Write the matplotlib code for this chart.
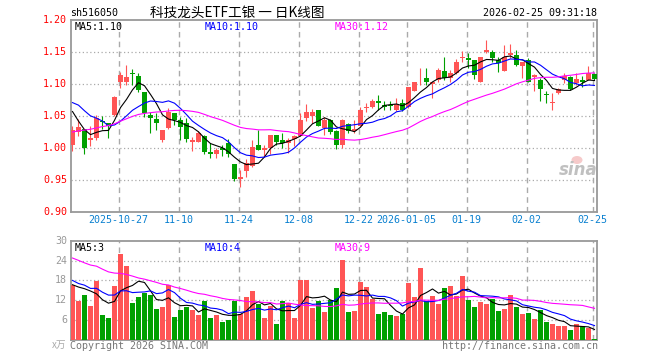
import numpy as np
import pandas as pd
import matplotlib
matplotlib.use('Agg')
import matplotlib.pyplot as plt
from matplotlib.patches import Ellipse

# daily bars, 2025-10-15 .. 2026-02-25 (88 sessions)
opens = [1.005, 1.025, 1.030, 1.013, 1.015, 1.042, 1.039, 1.051, 1.103, 1.104,
         1.117, 1.113, 1.088, 1.051, 1.046, 1.012, 1.031, 1.054, 1.044, 1.039,
         1.009, 1.010, 1.018, 0.993, 0.991, 1.000, 1.008, 0.974, 0.952, 0.964,
         0.972, 1.005, 0.997, 1.000, 1.021, 1.012, 1.008, 1.014, 1.019, 1.047,
         1.050, 1.060, 1.031, 1.043, 1.026, 1.004, 1.037, 1.026, 1.035, 1.062,
         1.064, 1.074, 1.068, 1.067, 1.060, 1.070, 1.064, 1.089, 1.109, 1.110,
         1.100, 1.107, 1.121, 1.109, 1.117, 1.141, 1.141, 1.138, 1.104, 1.150,
         1.151, 1.137, 1.121, 1.146, 1.146, 1.128, 1.138, 1.111, 1.107, 1.084,
         1.071, 1.086, 1.107, 1.111, 1.102, 1.107, 1.107, 1.116]
highs = [1.035, 1.045, 1.030, 1.034, 1.052, 1.050, 1.039, 1.081, 1.119, 1.130,
         1.124, 1.117, 1.088, 1.057, 1.055, 1.028, 1.063, 1.054, 1.048, 1.047,
         1.017, 1.026, 1.021, 1.008, 1.000, 1.005, 1.014, 0.974, 0.966, 0.982,
         1.012, 1.028, 1.005, 1.021, 1.021, 1.023, 1.016, 1.021, 1.055, 1.069,
         1.061, 1.060, 1.048, 1.045, 1.028, 1.045, 1.039, 1.043, 1.064, 1.070,
         1.076, 1.083, 1.074, 1.074, 1.078, 1.076, 1.095, 1.104, 1.125, 1.125,
         1.104, 1.125, 1.143, 1.122, 1.140, 1.152, 1.148, 1.138, 1.143, 1.169,
         1.154, 1.143, 1.161, 1.163, 1.154, 1.135, 1.141, 1.116, 1.109, 1.089,
         1.086, 1.094, 1.118, 1.112, 1.117, 1.112, 1.129, 1.117]
lows = [0.995, 1.019, 0.991, 1.003, 1.013, 1.029, 1.016, 1.050, 1.094, 1.099,
        1.099, 1.087, 1.048, 1.023, 1.028, 1.009, 1.030, 1.036, 1.013, 1.010,
        0.995, 1.009, 0.991, 0.984, 0.984, 0.987, 0.986, 0.948, 0.938, 0.955,
        0.970, 0.996, 0.986, 0.991, 1.005, 1.000, 0.992, 1.003, 1.018, 1.042,
        1.039, 1.034, 1.021, 1.022, 0.998, 1.000, 1.023, 1.023, 1.034, 1.057,
        1.062, 1.060, 1.060, 1.060, 1.058, 1.058, 1.062, 1.089, 1.099, 1.098,
        1.078, 1.104, 1.107, 1.104, 1.116, 1.134, 1.125, 1.108, 1.103, 1.148,
        1.135, 1.119, 1.120, 1.141, 1.129, 1.110, 1.103, 1.089, 1.073, 1.070,
        1.059, 1.085, 1.102, 1.091, 1.099, 1.096, 1.106, 1.107]
closes = [1.028, 1.032, 1.000, 1.015, 1.047, 1.041, 1.034, 1.079, 1.115, 1.111,
          1.116, 1.090, 1.055, 1.047, 1.039, 1.028, 1.057, 1.043, 1.033, 1.014,
          1.013, 1.023, 0.993, 0.991, 0.997, 0.997, 0.991, 0.951, 0.954, 0.976,
          1.002, 0.997, 1.000, 1.021, 1.010, 1.008, 1.013, 1.018, 1.044, 1.057,
          1.057, 1.035, 1.043, 1.025, 1.004, 1.043, 1.026, 1.029, 1.060, 1.064,
          1.074, 1.071, 1.064, 1.066, 1.069, 1.060, 1.095, 1.104, 1.110, 1.104,
          1.104, 1.122, 1.109, 1.117, 1.135, 1.143, 1.138, 1.115, 1.143, 1.154,
          1.141, 1.133, 1.143, 1.149, 1.130, 1.135, 1.104, 1.115, 1.092, 1.083,
          1.072, 1.092, 1.112, 1.092, 1.108, 1.103, 1.117, 1.108]
# volume in 万
volumes = [16.7, 11.7, 13.5, 10.2, 17.7, 7.7, 6.5, 16.2, 26.1, 22.5,
           11.1, 12.9, 14.3, 13.5, 9.3, 9.9, 16.7, 6.9, 9.0, 9.9,
           9.0, 7.5, 11.7, 6.6, 7.5, 5.5, 6.0, 11.7, 8.0, 12.9,
           14.7, 10.8, 6.6, 10.2, 4.8, 11.7, 11.2, 6.6, 18.0, 18.1,
           9.7, 11.9, 8.5, 12.1, 15.7, 24.2, 8.5, 8.9, 17.5, 16.0,
           12.4, 7.9, 8.5, 7.6, 7.3, 7.9, 17.2, 13.0, 21.8, 11.8,
           13.3, 10.9, 15.7, 16.3, 13.3, 19.3, 12.1, 10.0, 11.5, 10.9,
           12.4, 8.8, 9.4, 13.6, 10.0, 7.9, 8.2, 6.3, 9.1, 5.4,
           4.8, 4.2, 4.2, 3.0, 4.8, 4.2, 3.6, 0.3]

# sessions before the window (only feed the moving averages)
prev_close = [0.972, 0.968, 0.975, 0.983, 0.979, 0.988, 0.995, 0.991, 0.998, 1.004,
              0.999, 1.006, 1.012, 1.008, 1.015, 1.021, 1.018, 1.026, 1.032, 1.045,
              1.072, 1.088, 1.095, 1.083, 1.087, 1.107, 1.067, 1.054, 1.029]
prev_vol = [33, 36, 30, 28, 35, 31, 27, 29, 32, 26,
            30, 25, 28, 24, 27, 23, 26, 22, 25, 26,
            21, 18.5, 20, 17.5, 19.5, 15.2, 16.0, 13.7, 21.9]

tick_idx = [8, 18, 28, 38, 48, 56, 66, 76, 87]
tick_labels = ['2025-10-27', '11-10', '11-24', '12-08', '12-22',
               '2026-01-05', '01-19', '02-02', '02-25']
price_ticks = [0.90, 0.95, 1.00, 1.05, 1.10, 1.15, 1.20]
vol_ticks = [6, 12, 18, 24, 30]

ma_price_text = ['MA5:1.10', 'MA10:1.10', 'MA30:1.12']
ma_vol_text = ['MA5:3', 'MA10:4', 'MA30:9']

UP = '#ff5555'
DOWN = '#00a000'
MA_COLORS = ['black', '#0000ff', '#ff00ff']
GRID = '#aaaaaa'
MONO = 'DejaVu Sans Mono'
CJK = ['Noto Sans CJK SC', 'DejaVu Sans']


def moving_avg(vals, prev, n):
    s = pd.Series(list(prev) + list(vals), dtype=float)
    return s.rolling(n).mean().values[len(prev):]


W, H = 660, 360
fig = plt.figure(figsize=(W / 100, H / 100), dpi=100)


def px_axes(x0, y0, x1, y1):
    return fig.add_axes([x0 / W, 1 - y1 / H, (x1 - x0) / W, (y1 - y0) / H])


def ftext(x, y, s, **kw):
    fig.text(x / W, 1 - y / H, s, **kw)


ax = px_axes(71, 20.3, 597, 211.7)
axv = px_axes(71, 240.7, 597, 340)

o = np.array(opens)
h = np.array(highs)
l = np.array(lows)
c = np.array(closes)
v = np.array(volumes)
x = np.arange(len(c))
cols = np.where(c >= o, UP, DOWN)

# candles
ax.vlines(x, l, h, colors=cols, linewidth=0.8, zorder=3)
body = np.maximum(np.abs(c - o), 0.0012)
ax.bar(x, body, bottom=np.minimum(o, c), width=0.8, color=cols,
       linewidth=0, zorder=4)

axv.bar(x, v, width=0.82, color=cols, linewidth=0, zorder=3)

for n, col in zip([5, 10, 30], MA_COLORS):
    ax.plot(x, moving_avg(c, prev_close, n), color=col, lw=0.8, zorder=5)
    axv.plot(x, moving_avg(v, prev_vol, n), color=col, lw=0.8, zorder=5)

for a, ylim, ticks in [(ax, (0.90, 1.20), price_ticks[1:-1]),
                       (axv, (0, 30), vol_ticks[:-1])]:
    a.set_xlim(-0.25, 87.42)
    a.set_ylim(*ylim)
    a.set_xticks([])
    a.set_yticks([])
    for yv in ticks:
        a.axhline(yv, color=GRID, lw=0.9, ls=(0, (1, 2)), zorder=1)
    for t in tick_idx:
        a.axvline(t - 0.3, color=GRID, lw=1.0, ls=(0, (4, 3)), zorder=1)
    for sp in a.spines.values():
        sp.set_color('#999999')
        sp.set_linewidth(1.3)

# y tick labels
for yv in price_ticks:
    ax.text(-0.9, yv, f'{yv:.2f}', ha='right', va='center', color='#ff0000',
            fontsize=7.2, family=MONO)
for yv in vol_ticks:
    axv.text(-0.9, yv, str(yv), ha='right', va='center', color='#999999',
             fontsize=7.2, family=MONO)
ftext(66, 345, 'x万', ha='right', va='center', color='#aaaaaa', fontsize=7,
      family=CJK)

# date labels
for t, s in zip(tick_idx, tick_labels):
    ax.text(t - 0.3, -0.015, s, transform=ax.get_xaxis_transform(),
            ha='center', va='top', color='#0a80d0', fontsize=7.2, family=MONO)

# header
ftext(70, 13, 'sh516050', ha='left', va='center', fontsize=7.2, family=MONO)
ftext(237, 13, '科技龙头ETF工银 一 日K线图', ha='center', va='center',
      fontsize=9.8, family=CJK)
ftext(597, 13, '2026-02-25 09:31:18', ha='right', va='center', fontsize=7.2,
      family=MONO)

# legends
for xp, s, col in zip([75, 205, 335], ma_price_text, MA_COLORS):
    ftext(xp, 27, s, ha='left', va='center', color=col, fontsize=7.2,
          family=MONO)
for xp, s, col in zip([75, 205, 335], ma_vol_text, MA_COLORS):
    ftext(xp, 248, s, ha='left', va='center', color=col, fontsize=7.2,
          family=MONO)

# footer
ftext(70, 346, 'Copyright 2026 SINA.COM', ha='left', va='center',
      color='#777777', fontsize=7.2, family=MONO)
ftext(598, 346, 'http://finance.sina.com.cn', ha='right', va='center',
      color='#777777', fontsize=7.2, family=MONO)

# watermark: faint eye logo over the word
fig.add_artist(Ellipse((577, H - 160), 11, 8, transform=None,
                       facecolor='#f6caca', edgecolor='none', zorder=2))
ftext(578, 170, 'sina', ha='center', va='center', color='#c0c0c0',
      fontsize=12, fontweight='bold', style='italic')

fig.savefig('out.png', dpi=100)
